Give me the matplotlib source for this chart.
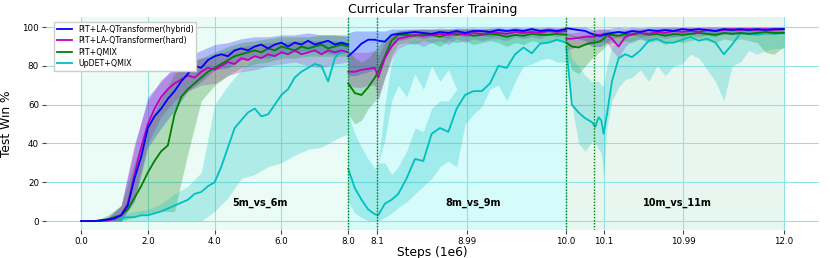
import matplotlib
matplotlib.use("Agg")
import matplotlib.pyplot as plt

# ---------------- data (x in plot-axis units; three curriculum phases) ----------------
series_names = ["PIT+LA-QTransformer(hybrid)", "PIT+LA-QTransformer(hard)", "PIT+QMIX", "UpDET+QMIX"]
series_colors = ["b", "m", "g", "c"]

x_tick_pos = [0, 2, 4, 6, 8, 8.87, 11.56, 14.53, 15.66, 18.03, 21.05]
x_tick_labels = ["0.0", "2.0", "4.0", "6.0", "8.0", "8.1", "8.99", "10.0", "10.1", "10.99", "12.0"]
y_ticks = [0, 20, 40, 60, 80, 100]
phase_bounds = [0, 8, 14.53, 21.05]
phase_names = ["5m_vs_6m", "8m_vs_9m", "10m_vs_11m"]
phase_label_x = [5.36, 11.74, 17.87]
switch_lines = [8, 8.86, 14.52, 15.36]

# phase 1 (5m_vs_6m)
x1 = [0.0, 0.2, 0.4, 0.6, 0.8, 1.0, 1.2, 1.4, 1.6, 1.8, 2.0, 2.2, 2.4, 2.6, 2.8, 3.0, 3.2, 3.4, 3.6, 3.8, 4.0,
      4.2, 4.4, 4.6, 4.8, 5.0, 5.2, 5.4, 5.6, 5.8, 6.0, 6.2, 6.4, 6.6, 6.8, 7.0, 7.2, 7.4, 7.6, 7.8, 8.0]
hyb1 = [0, 0, 0, 0.3, 0.8, 1.5, 3, 8, 22, 33, 48, 54, 58, 63, 67, 72, 76, 80, 79, 83, 85,
        86, 85, 88, 89, 88, 90, 91, 89, 91, 92, 90, 92, 91, 93, 91, 92, 93, 91, 92, 91]
hard1 = [0, 0, 0, 0, 0.3, 1, 3, 9, 24, 38, 50, 58, 64, 68, 71, 73, 75, 74, 77, 79, 78,
         80, 82, 81, 84, 83, 85, 84, 86, 85, 87, 86, 88, 86, 87, 88, 86, 88, 87, 88, 87]
qmix1 = [0, 0, 0, 0.5, 1, 2, 3, 6, 12, 18, 25, 31, 36, 39, 55, 64, 68, 71, 74, 77, 79,
         81, 83, 85, 86, 87, 88, 87, 89, 88, 90, 89, 88, 90, 89, 90, 91, 89, 90, 91, 90]
updet1 = [0, 0, 0, 0.3, 0.5, 1, 1.5, 2, 2, 3, 3, 4, 5, 6.5, 8, 9.5, 11, 14, 15, 18, 20,
          28, 38, 48, 52, 56, 58, 54, 55, 60, 65, 68, 74, 77, 79, 81, 80, 72, 84, 88, 87]

xb1 = [0.0, 0.4, 0.8, 1.2, 1.6, 2.0, 2.4, 2.8, 3.2, 3.6, 4.0, 4.4, 4.8, 5.2, 5.6, 6.0, 6.4, 6.8, 7.2, 7.6, 8.0]
hyb1_lo = [0, 0, 0, 0, 10, 38, 48, 57, 67, 72, 78, 79, 83, 85, 84, 87, 87, 88, 87, 86, 87]
hyb1_hi = [0, 0, 2, 8, 38, 64, 72, 80, 85, 88, 91, 92, 94, 95, 95, 96, 96, 97, 96, 96, 96]
hard1_lo = [0, 0, 0, 0, 12, 40, 54, 62, 67, 70, 71, 75, 77, 78, 80, 81, 82, 80, 79, 81, 82]
hard1_hi = [0, 0, 1, 8, 40, 62, 73, 78, 82, 84, 85, 88, 90, 91, 92, 92, 93, 93, 93, 93, 92]
qmix1_lo = [0, 0, 0, 0, 2, 4, 5, 5, 35, 62, 70, 75, 79, 81, 82, 84, 84, 85, 85, 85, 85]
qmix1_hi = [0, 0, 3, 8, 30, 50, 63, 76, 81, 84, 87, 90, 92, 93, 94, 95, 95, 95, 96, 96, 95]
updet1_lo = [0, 0, 0, 0, 0, 0, 0, 0, 0, 0, 5, 12, 22, 24, 28, 30, 34, 37, 38, 42, 45]
updet1_hi = [0, 0, 1.5, 3, 5, 6, 9, 14, 18, 25, 60, 70, 78, 84, 87, 89, 90, 91, 92, 93, 93]

# phase 2 (8m_vs_9m)
x2 = [8.0, 8.2, 8.4, 8.6, 8.8, 8.9, 9.1, 9.3, 9.5, 9.75, 10.0, 10.25, 10.5, 10.75, 11.0, 11.25, 11.5, 11.75,
      12.0, 12.25, 12.5, 12.75, 13.0, 13.25, 13.5, 13.75, 14.0, 14.25, 14.53]
hyb2 = [85, 88, 91.5, 93.5, 93.5, 93, 92.5, 96, 96.5, 97, 97.5, 97, 96.5, 97.5, 97, 98, 97, 98,
        98, 97.5, 98.5, 98, 98.5, 98, 99, 98, 98.5, 98, 99]
hard2 = [77, 77, 78, 78.5, 79, 74, 84, 90, 94, 95, 96, 95.5, 96, 96.5, 96, 97, 96, 97,
         96.5, 97, 97, 96.5, 97.5, 97, 97.5, 97, 98, 97.5, 98]
qmix2 = [71, 66, 65, 69, 74, 77, 85, 93, 96, 96, 95.5, 96.5, 96, 95, 96.5, 96, 96.5, 95.5,
         96, 96.5, 96, 95, 96, 95.5, 96.5, 96, 96, 96.5, 96]
updet2 = [27, 17, 11, 6, 3.5, 3, 9, 11, 14, 22, 32, 31, 45, 48, 46, 58, 65, 67,
          67, 71, 80, 79, 86, 89.5, 86.5, 91.5, 92, 93.5, 92]
hyb2_lo = [75, 75, 76, 77, 78, 79, 84, 90, 93, 94, 95, 94, 95, 95, 94, 96, 95, 96,
           96, 95, 96, 96, 97, 96, 97, 96, 97, 96, 97]
hyb2_hi = [97, 98, 98, 98, 98, 98, 98, 99, 99, 99, 99, 99, 99, 99.5, 99, 99.5, 99.5, 99.5,
           99.5, 99.5, 100, 99.5, 100, 99.5, 100, 99.5, 100, 99.5, 100]
hard2_lo = [70, 69, 69, 70, 70, 62, 74, 83, 89, 91, 92, 90, 92, 93, 91, 94, 92, 94,
            93, 94, 94, 93, 95, 94, 95, 94, 96, 95, 96]
hard2_hi = [86, 87, 87, 87, 88, 85, 92, 96, 98, 98.5, 99, 99, 99, 99, 99, 99.5, 99, 99.5,
            99, 99.5, 99.5, 99, 99.5, 99.5, 99.5, 99.5, 100, 99.5, 100]
qmix2_lo = [55, 50, 52, 58, 62, 64, 74, 85, 91, 92, 91, 93, 92, 90, 93, 92, 93, 91,
            92, 93, 92, 90, 92, 91, 93, 92, 92, 93, 92]
qmix2_hi = [88, 84, 82, 84, 88, 90, 94, 97, 98, 98.5, 98.5, 99, 98.5, 98.5, 99, 98.5, 99, 98.5,
            98.5, 99, 99, 98.5, 99, 98.5, 99, 99, 99, 99, 99]
# UpDET band in phase 2 is split: a lower part around the mean and an upper part near the top
updet2_lo = [10, 4, 2, 0, 0, 0, 2, 4, 7, 10, 14, 18, 22, 28, 31, 28, 50, 55,
             59, 68, 70, 62, 72, 80, 81, 83, 84, 82, 82]
updet2_mid_lo = [55, 45, 38, 32, 27, 30, 30, 24, 28, 36, 48, 46, 58, 62, 62, 68, 74, 76,
                 78, 80, 84, 82, 86, 88, 88, 90, 91, 91, 91]
updet2_mid_hi = [55, 45, 38, 32, 27, 30, 42, 62, 70, 64, 76, 68, 80, 72, 78, 68, 74, 76,
                 78, 80, 84, 82, 86, 88, 88, 90, 91, 91, 91]
updet2_hi = [55, 45, 38, 32, 27, 30, 60, 82, 90, 92, 93, 93, 94, 94, 95, 95, 95, 96,
             96, 96, 96, 97, 97, 97, 97, 97, 97, 97, 97]

# phase 3 (10m_vs_11m)
x3 = [14.53, 14.7, 14.9, 15.1, 15.3, 15.4, 15.5, 15.58, 15.65, 15.75, 15.9, 16.1, 16.3, 16.5, 16.75, 17.0,
      17.25, 17.5, 17.75, 18.0, 18.25, 18.5, 18.75, 19.0, 19.25, 19.5, 19.75, 20.0, 20.25, 20.5, 20.75, 21.05]
hyb3 = [99.5, 99, 98.5, 98, 96.5, 96, 95.5, 95.5, 96, 96.5, 97, 97.5, 97, 98, 97.5, 98.5,
        98, 98.5, 98, 99, 98.5, 99, 98.5, 98, 99, 98.5, 99, 98.5, 99, 98.5, 99, 99]
hard3 = [94, 94, 94.5, 95, 95, 95.5, 96, 96, 96.5, 96, 94, 90, 95, 96.5, 97, 96.5,
         97.5, 97, 98, 97.5, 98, 97.5, 98.5, 98, 98.5, 99, 98.5, 99, 98.5, 99, 98.5, 99]
qmix3 = [92, 90, 89.5, 91, 92, 92, 92.5, 93, 94, 96, 96, 95.5, 96.5, 96, 97, 96,
         96.5, 95.5, 96.5, 96, 96.5, 97, 96.5, 96, 97, 96.5, 97, 96.5, 97, 97.5, 97, 97]
updet3 = [90, 60, 56, 53, 51, 48.5, 53.5, 52, 45, 55, 72, 84, 86, 84.5, 88, 93,
          94, 92, 92, 93.5, 95, 93, 94, 92, 86, 91, 97, 96.5, 96, 97, 96.5, 97]
hyb3_lo = [96, 95, 94, 93, 90, 90, 90, 90, 91, 92, 94, 95, 94, 96, 95, 96,
           96, 96, 95, 97, 96, 97, 96, 95, 97, 96, 97, 96, 97, 96, 97, 97]
hyb3_hi = [100, 100, 100, 100, 99, 99, 99, 99, 99, 99, 99.5, 100, 99.5, 100, 99.5, 100,
           100, 100, 100, 100, 100, 100, 100, 100, 100, 100, 100, 100, 100, 100, 100, 100]
hard3_lo = [88, 89, 90, 91, 91, 92, 92, 92, 93, 92, 88, 84, 90, 93, 94, 93,
            95, 94, 95, 95, 96, 95, 96, 96, 96, 97, 96, 97, 96, 97, 96, 97]
hard3_hi = [97, 97, 97.5, 98, 98, 98.5, 99, 99, 99, 99, 98, 96, 98.5, 99, 99.5, 99,
            99.5, 99.5, 100, 99.5, 100, 99.5, 100, 100, 100, 100, 100, 100, 100, 100, 100, 100]
qmix3_lo = [86, 78, 76, 80, 84, 85, 87, 88, 89, 91, 92, 92, 93, 92, 94, 92,
            93, 91, 93, 92, 93, 94, 93, 92, 94, 93, 94, 93, 92, 87, 86, 90]
qmix3_hi = [97, 96, 95, 96, 97, 97, 97, 97, 97.5, 98, 98, 98, 98.5, 98, 98.5, 98,
            98.5, 98, 98.5, 98, 98.5, 99, 98.5, 98, 99, 98.5, 99, 98.5, 99, 99, 99, 99]
updet3_lo = [82, 60, 40, 36, 41, 40, 37, 35, 23, 48, 62, 69, 73, 74, 78, 72,
             80, 75, 80, 81, 86, 84, 78, 72, 62, 80, 82, 88, 86, 88, 89, 89]
updet3_hi = [97, 84, 80, 75, 72, 72, 72, 70, 70, 80, 90, 93, 94, 95, 96, 97,
             97, 97, 97, 98, 98, 98, 98, 98, 97, 98, 98, 98, 98, 98, 98, 98]

phase_colors = ["#eafcf5", "#d6fbfb", "#e7f7ef"]

# ---------------- plotting ----------------
plt.rcParams["font.family"] = ["DejaVu Sans"]
fig = plt.figure(figsize=(8.3, 2.58), dpi=100)
ax = fig.add_axes([0.0554, 0.1085, 0.9313, 0.8255])

for i in range(3):
    ax.axvspan(phase_bounds[i], phase_bounds[i + 1], color=phase_colors[i], zorder=0, lw=0)

ax.grid(True, color="#8fe3e3", lw=0.8, zorder=1)
ax.set_axisbelow(True)

bands = [
    (xb1, hyb1_lo, hyb1_hi, 0), (xb1, hard1_lo, hard1_hi, 1), (xb1, qmix1_lo, qmix1_hi, 2),
    (xb1, updet1_lo, updet1_hi, 3),
    (x2, hyb2_lo, hyb2_hi, 0), (x2, hard2_lo, hard2_hi, 1), (x2, qmix2_lo, qmix2_hi, 2),
    (x2, updet2_lo, updet2_mid_lo, 3), (x2, updet2_mid_hi, updet2_hi, 3),
    (x3, hyb3_lo, hyb3_hi, 0), (x3, hard3_lo, hard3_hi, 1), (x3, qmix3_lo, qmix3_hi, 2),
    (x3, updet3_lo, updet3_hi, 3),
]
for xb, lo, hi, k in bands:
    ax.fill_between(xb, lo, hi, color=series_colors[k], alpha=0.25, lw=0, zorder=2)

lines = [
    (x1, [hyb1, hard1, qmix1, updet1]),
    (x2, [hyb2, hard2, qmix2, updet2]),
    (x3, [hyb3, hard3, qmix3, updet3]),
]
for j, (xs, means) in enumerate(lines):
    for k in [3, 2, 1, 0]:
        ax.plot(xs, means[k], color=series_colors[k], lw=1.3, zorder=3,
                label=series_names[k] if j == 0 else None)

for xv in switch_lines:
    ax.axvline(xv, color="g", ls=(0, (1, 1.2)), lw=1.0, zorder=4)

for name, xp in zip(phase_names, phase_label_x):
    ax.text(xp, 9.5, name, fontsize=7, fontweight="bold", ha="center", va="center", zorder=5)

ax.set_xlim(-1.05, 22.1)
ax.set_ylim(-4.6, 105.2)
ax.set_xticks(x_tick_pos)
ax.set_xticklabels(x_tick_labels)
ax.set_yticks(y_ticks)
ax.tick_params(labelsize=6.3, length=3, width=0.8, color="#444444", pad=2)
for s in ax.spines.values():
    s.set_visible(False)

ax.set_xlabel("Steps (1e6)", fontsize=8.8, labelpad=0)
ax.set_ylabel("Test Win %", fontsize=8.8, labelpad=7)
ax.set_title("Curricular Transfer Training", fontsize=9, pad=3)

handles, labels = ax.get_legend_handles_labels()
order = [labels.index(n) for n in series_names]
ax.legend([handles[i] for i in order], [labels[i] for i in order], loc="upper left",
          fontsize=5.7, frameon=True, framealpha=1.0, edgecolor="#cccccc", fancybox=False,
          borderpad=0.35, labelspacing=0.3, handlelength=1.9, bbox_to_anchor=(0.005, 0.995))

fig.savefig("out.png", dpi=100)
